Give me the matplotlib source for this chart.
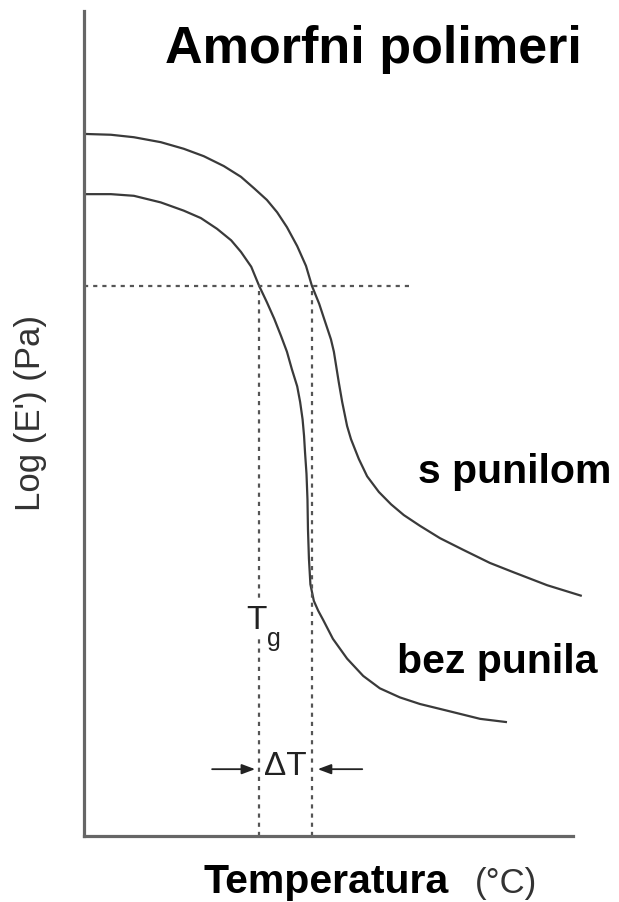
import matplotlib
matplotlib.use("Agg")
import matplotlib.pyplot as plt

plt.rcParams['font.family'] = ['Liberation Sans', 'DejaVu Sans']
plt.rcParams['lines.scale_dashes'] = False

# --- storage modulus curves (arbitrary units, temperature 0-100, log E' 0-100) ---
temp_filled = [0.0, 5.5, 10.2, 15.7, 20.4, 24.5, 28.6, 32.1, 34.8, 37.4, 39.5,
               41.5, 43.6, 45.4, 46.6, 48.1, 49.1, 50.5, 51.1, 52.1, 52.8, 53.8,
               54.6, 56.2, 57.9, 60.3, 62.8, 65.4, 68.7, 72.8, 77.5, 83.0, 87.7,
               94.7, 101.8]
loge_filled = [85.1, 85.0, 84.7, 84.1, 83.3, 82.4, 81.2, 79.9, 78.5, 77.1, 75.6,
               73.8, 71.5, 69.1, 66.7, 64.5, 62.7, 60.2, 58.7, 55.0, 52.6, 49.7,
               48.1, 45.7, 43.6, 41.7, 40.2, 38.9, 37.6, 36.1, 34.7, 33.1, 32.0,
               30.4, 29.1]

temp_plain = [0.0, 5.5, 10.2, 15.7, 20.4, 23.9, 27.2, 30.1, 32.1, 34.2, 35.8,
              37.4, 38.9, 40.3, 41.5, 42.5, 43.6, 44.2, 44.7, 45.0, 45.2, 45.5,
              45.7, 45.8, 46.0, 46.3, 47.0, 47.9, 48.9, 50.9, 53.8, 57.1, 60.5,
              64.6, 68.7, 74.2, 81.0, 86.5]
loge_plain = [77.8, 77.8, 77.6, 76.8, 75.8, 74.9, 73.6, 72.2, 70.8, 69.0, 66.7,
              64.7, 62.7, 60.6, 58.7, 56.6, 54.5, 52.6, 50.5, 48.5, 46.5, 43.9,
              40.8, 37.2, 33.6, 30.5, 28.5, 27.3, 26.2, 23.9, 21.5, 19.4, 17.9,
              16.8, 16.0, 15.2, 14.2, 13.8]

# reference level and the two glass transition temperatures
loge_ref = 66.7
tg_plain = 35.8
tg_filled = 46.6
ref_end = 67.3

fig = plt.figure(figsize=(6.19, 9.03), dpi=100)
ax = fig.add_axes([84 / 619, 1 - 837 / 903, 489 / 619, 825 / 903])
ax.set_xlim(0, 100)
ax.set_ylim(0, 100)
ax.set_xticks([])
ax.set_yticks([])
for s in ['top', 'right']:
    ax.spines[s].set_visible(False)
for s in ['left', 'bottom']:
    ax.spines[s].set_color('#666666')
    ax.spines[s].set_linewidth(2.3)

curve_kw = dict(color='#3a3a3a', lw=1.6, clip_on=False, solid_capstyle='butt',
                solid_joinstyle='round')
ax.plot(temp_filled, loge_filled, **curve_kw)
ax.plot(temp_plain, loge_plain, **curve_kw)

# dashed guide lines
dash_kw = dict(color='#555555', lw=1.6, dashes=(3.0, 3.6))
ax.plot([0, ref_end], [loge_ref, loge_ref], **dash_kw)
ax.plot([tg_plain, tg_plain], [0, loge_ref], **dash_kw)
ax.plot([tg_filled, tg_filled], [0, loge_ref], **dash_kw)

# Tg label
ax.text(tg_plain - 0.6, 26.3, 'T', fontsize=24, color='#222222', ha='center',
        va='center', bbox=dict(fc='white', ec='none', pad=1.5))
ax.text(tg_plain + 3.0, 24.0, 'g', fontsize=18, color='#222222', ha='center',
        va='center')

# Delta T with arrows
ax.text((tg_plain + tg_filled) / 2, 8.6, 'ΔT', fontsize=24, color='#222222',
        ha='center', va='center')
arrow_kw = dict(arrowstyle='-|>,head_length=0.8,head_width=0.3', color='#222222',
                lw=1.3, shrinkA=0, shrinkB=0)
ax.annotate('', xy=(tg_plain - 0.8, 8.1), xytext=(26.2, 8.1), arrowprops=arrow_kw)
ax.annotate('', xy=(tg_filled + 1.2, 8.1), xytext=(56.9, 8.1), arrowprops=arrow_kw)

# titles and labels
fig.text(165 / 619, 1 - 63 / 903, 'Amorfni polimeri', fontsize=37.5,
         fontweight='bold', ha='left', va='baseline')
fig.text(418 / 619, 1 - 483 / 903, 's punilom', fontsize=29.5,
         fontweight='bold', ha='left', va='baseline')
fig.text(397 / 619, 1 - 673 / 903, 'bez punila', fontsize=29.5,
         fontweight='bold', ha='left', va='baseline')
fig.text(203 / 619, 1 - 893 / 903, 'Temperatura', fontsize=29.5,
         fontweight='bold', ha='left', va='baseline')
fig.text(475 / 619, 1 - 893 / 903, '(°C)', fontsize=25, color='#333333',
         ha='left', va='baseline')
fig.text(31 / 619, 1 - 413 / 903, "Log (E') (Pa)", fontsize=25, color='#333333',
         rotation=90, ha='center', va='center')

fig.savefig('out.png', dpi=100)
